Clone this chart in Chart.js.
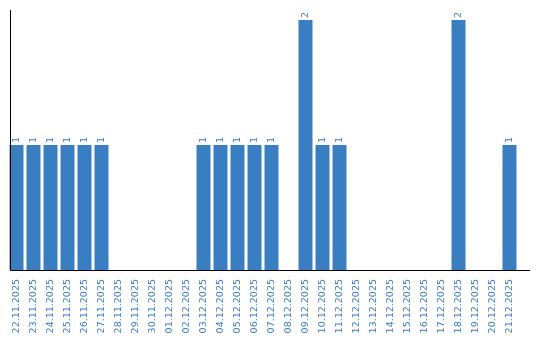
<!DOCTYPE html>
<html>
<head>
<meta charset="utf-8">
<script src="https://cdn.jsdelivr.net/npm/chart.js@4.4.0/dist/chart.umd.min.js"></script>
<style>
  html, body { margin: 0; padding: 0; background: #fff; }
  #wrap { width: 540px; height: 340px; }
</style>
</head>
<body>
<div id="wrap"><canvas id="myChart" width="540" height="340"></canvas></div>
<script>
// dates shown under the bars
const days = [
    "22.11.2025", "23.11.2025", "24.11.2025", "25.11.2025", "26.11.2025", "27.11.2025",
    "28.11.2025", "29.11.2025", "30.11.2025", "01.12.2025", "02.12.2025", "03.12.2025",
    "04.12.2025", "05.12.2025", "06.12.2025", "07.12.2025", "08.12.2025", "09.12.2025",
    "10.12.2025", "11.12.2025", "12.12.2025", "13.12.2025", "14.12.2025", "15.12.2025",
    "16.12.2025", "17.12.2025", "18.12.2025", "19.12.2025", "20.12.2025", "21.12.2025"
];
// count per day
const counts = [
    1, 1, 1, 1, 1, 1,
    0, 0, 0, 0, 0, 1,
    1, 1, 1, 1, 0, 2,
    1, 1, 0, 0, 0, 0,
    0, 0, 2, 0, 0, 1
];

const blue = "#3a7ec2";
const labelFont = "'DejaVu Sans', Verdana, sans-serif";

// rotated value labels over each non-zero bar
const valueLabels = {
    id: "valueLabels",
    afterDatasetsDraw(chart) {
        const ctx = chart.ctx;
        const meta = chart.getDatasetMeta(0);
        ctx.save();
        ctx.fillStyle = blue;
        ctx.font = "9.5px " + labelFont;
        ctx.textAlign = "left";
        ctx.textBaseline = "middle";
        meta.data.forEach((bar, i) => {
            if (!counts[i]) return;
            ctx.save();
            ctx.translate(bar.x, bar.y - 2);
            ctx.rotate(-Math.PI / 2);
            ctx.fillText(String(counts[i]), 0, 0);
            ctx.restore();
        });
        ctx.restore();
    }
};

// axis lines: left edge of the first bar up to the top, and along the bottom to the right edge
const axisLines = {
    id: "axisLines",
    afterDraw(chart) {
        const ctx = chart.ctx;
        const a = chart.chartArea;
        const first = chart.getDatasetMeta(0).data[0];
        const x0 = Math.round(first.x - first.width / 2) + 0.5;
        const y0 = Math.round(a.bottom) + 0.5;
        ctx.save();
        ctx.strokeStyle = "#000";
        ctx.lineWidth = 1;
        ctx.beginPath();
        ctx.moveTo(x0, a.top);
        ctx.lineTo(x0, y0);
        ctx.lineTo(chart.width - 10, y0);
        ctx.stroke();
        ctx.restore();
    }
};

new Chart(document.getElementById("myChart").getContext("2d"), {
    type: "bar",
    data: {
        labels: days,
        datasets: [{
            data: counts,
            backgroundColor: blue,
            borderWidth: 0,
            categoryPercentage: 1,
            barPercentage: 14 / 17
        }]
    },
    options: {
        responsive: false,
        animation: false,
        layout: { padding: { left: 8, right: 22, top: 10, bottom: 0 } },
        plugins: {
            legend: { display: false },
            tooltip: { enabled: false }
        },
        scales: {
            x: {
                grid: { display: false, drawTicks: false },
                border: { display: false },
                afterFit(scale) { scale.height = 70; },
                ticks: {
                    color: blue,
                    font: { family: labelFont, size: 9.5 },
                    minRotation: 90,
                    maxRotation: 90,
                    autoSkip: false,
                    padding: 9
                }
            },
            y: {
                display: false,
                min: 0,
                max: 2.08
            }
        }
    },
    plugins: [valueLabels, axisLines]
});
</script>
</body>
</html>
